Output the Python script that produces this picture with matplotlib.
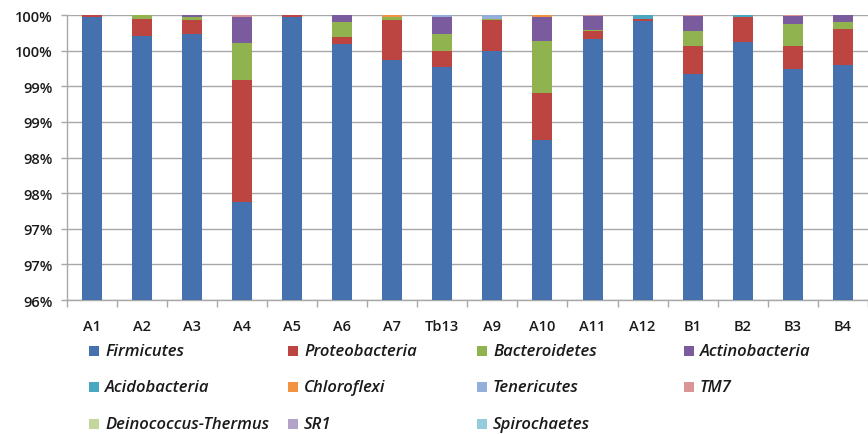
import numpy as np
import matplotlib
matplotlib.use('Agg')
import matplotlib.pyplot as plt
from matplotlib.patches import Rectangle
from matplotlib.ticker import FuncFormatter, MultipleLocator

# samples along the x axis
samples = ['A1', 'A2', 'A3', 'A4', 'A5', 'A6', 'A7', 'Tb13',
           'A9', 'A10', 'A11', 'A12', 'B1', 'B2', 'B3', 'B4']

# relative abundance (%) of each phylum per sample
firmicutes     = [99.97, 99.70, 99.74, 97.37, 99.97, 99.60, 99.37, 99.27,
                  99.50, 98.24, 99.66, 99.92, 99.17, 99.62, 99.25, 99.30]
proteobacteria = [0.03, 0.25, 0.19, 1.72, 0.03, 0.09, 0.56, 0.23,
                  0.43, 0.66, 0.11, 0.03, 0.39, 0.35, 0.31, 0.51]
bacteroidetes  = [0.00, 0.05, 0.04, 0.52, 0.00, 0.22, 0.05, 0.24,
                  0.02, 0.74, 0.02, 0.00, 0.22, 0.00, 0.31, 0.10]
actinobacteria = [0.00, 0.00, 0.03, 0.36, 0.00, 0.09, 0.00, 0.23,
                  0.00, 0.34, 0.20, 0.00, 0.21, 0.00, 0.12, 0.09]
acidobacteria  = [0.00, 0.00, 0.00, 0.00, 0.00, 0.00, 0.00, 0.00,
                  0.00, 0.00, 0.00, 0.05, 0.00, 0.03, 0.00, 0.00]
chloroflexi    = [0.00, 0.00, 0.00, 0.00, 0.00, 0.00, 0.02, 0.00,
                  0.00, 0.02, 0.00, 0.00, 0.00, 0.00, 0.00, 0.00]
tenericutes    = [0.00, 0.00, 0.00, 0.00, 0.00, 0.00, 0.00, 0.03,
                  0.05, 0.00, 0.00, 0.00, 0.00, 0.00, 0.00, 0.00]
tm7            = [0.00, 0.00, 0.00, 0.03, 0.00, 0.00, 0.00, 0.00,
                  0.00, 0.00, 0.01, 0.00, 0.01, 0.00, 0.01, 0.00]
deinococcus    = [0.0] * 16
sr1            = [0.0] * 16
spirochaetes   = [0.0] * 16

phyla = ['Firmicutes', 'Proteobacteria', 'Bacteroidetes', 'Actinobacteria',
         'Acidobacteria', 'Chloroflexi', 'Tenericutes', 'TM7',
         'Deinococcus-Thermus', 'SR1', 'Spirochaetes']
series = [firmicutes, proteobacteria, bacteroidetes, actinobacteria,
          acidobacteria, chloroflexi, tenericutes, tm7,
          deinococcus, sr1, spirochaetes]
colors = ['#4572AE', '#BC4542', '#90B24F', '#7A5C9E',
          '#4AA7C2', '#F39241', '#93AEDA', '#D99694',
          '#C3D69B', '#B3A2C7', '#93CDDD']

plt.rcParams['font.family'] = ['Open Sans', 'DejaVu Sans']

fig = plt.figure(figsize=(8.68, 4.35), dpi=100)
ax = fig.add_axes([0.0768, 0.308, 0.9232, 0.655])

x = np.arange(len(samples))
bottom = np.zeros(len(samples))
for vals, col in zip(series, colors):
    vals = np.array(vals)
    ax.bar(x, vals, width=0.4, bottom=bottom, color=col, zorder=3)
    bottom += vals

ax.set_ylim(96, 100)
ax.set_xlim(-0.5, len(samples) - 0.5)
ax.yaxis.set_major_locator(MultipleLocator(0.5))
# Excel-style percent labels, rounded half up
ax.yaxis.set_major_formatter(FuncFormatter(lambda v, p: '%d%%' % int(np.floor(v + 0.5))))
ax.grid(axis='y', color='#A8A8A8', linewidth=1.0, zorder=0)

ax.set_xticks(x)
ax.set_xticklabels(samples)
ax.set_xticks(np.arange(len(samples) + 1) - 0.5, minor=True)
ax.tick_params(axis='x', which='major', length=0, pad=14, labelsize=10.5, colors='#1a1a1a')
ax.tick_params(axis='x', which='minor', length=5, width=1, color='#A8A8A8', direction='out')
ax.tick_params(axis='y', length=4, width=1, color='#A8A8A8', pad=6, labelsize=10.5, colors='#1a1a1a')
for lab in ax.get_xticklabels() + ax.get_yticklabels():
    lab.set_fontweight('semibold')

for side in ['top', 'right']:
    ax.spines[side].set_visible(False)
for side in ['left', 'bottom']:
    ax.spines[side].set_color('#A8A8A8')
    ax.spines[side].set_linewidth(1.0)

# legend laid out in a fixed grid, row by row
col_x = [89, 288, 477, 684]
row_y = [352, 388, 425]
W, H = 868.0, 435.0
for i, (name, col) in enumerate(zip(phyla, colors)):
    r, c = divmod(i, 4)
    mx, my = col_x[c], row_y[r]
    fig.add_artist(Rectangle((mx / W, 1 - (my + 5) / H), 10 / W, 10 / H,
                             transform=fig.transFigure, color=col, lw=0))
    fig.text((mx + 16) / W, 1 - my / H, name, fontsize=12, style='italic',
             fontweight='semibold', color='#1a1a1a', va='center', ha='left')

fig.savefig('out.png', dpi=100)
